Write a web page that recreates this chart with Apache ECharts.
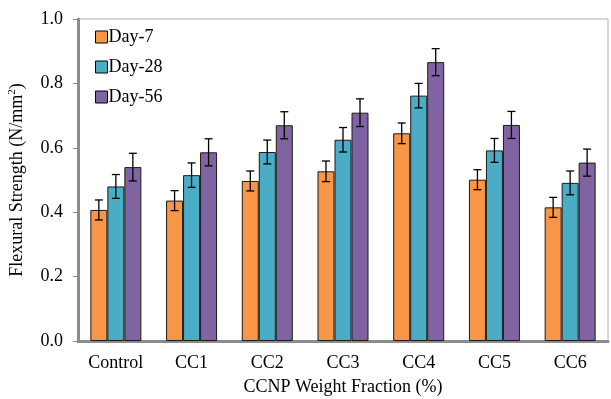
<!DOCTYPE html>
<html>
<head>
<meta charset="utf-8">
<script src="https://cdn.jsdelivr.net/npm/echarts@6/dist/echarts.min.js"></script>
<style>
  html, body { margin: 0; padding: 0; background: #fff; }
  #chart { width: 611px; height: 399px; }
</style>
</head>
<body>
<div id="chart"></div>
<script>
// data
var categories = ['Control', 'CC1', 'CC2', 'CC3', 'CC4', 'CC5', 'CC6'];
var day7  = [0.407, 0.436, 0.497, 0.527, 0.645, 0.501, 0.415];
var day28 = [0.480, 0.515, 0.587, 0.625, 0.762, 0.592, 0.491];
var day56 = [0.540, 0.586, 0.670, 0.709, 0.866, 0.671, 0.554];
var err7  = [0.031, 0.031, 0.031, 0.032, 0.032, 0.031, 0.031];
var err28 = [0.037, 0.038, 0.037, 0.038, 0.038, 0.037, 0.037];
var err56 = [0.043, 0.042, 0.042, 0.043, 0.042, 0.042, 0.042];
var yTicks = [0, 0.2, 0.4, 0.6, 0.8, 1.0];

var seriesNames = ['Day-7', 'Day-28', 'Day-56'];
var seriesVals = [day7, day28, day56];
var seriesErr = [err7, err28, err56];
var colors = ['#F79646', '#4BACC6', '#8064A2'];
var font = '"Liberation Serif", "Times New Roman", serif';
var BAR_W = 17;

var myChart = echarts.init(document.getElementById('chart'));

function errorSeries(k){
  var rows = [];
  for (var i = 0; i < categories.length; i++) {
    rows.push([i, seriesVals[k][i] - seriesErr[k][i], seriesVals[k][i] + seriesErr[k][i]]);
  }
  return {
    type: 'custom',
    name: seriesNames[k] + ' err',
    data: rows,
    z: 10,
    silent: true,
    renderItem: function (params, api) {
      var off = (k - 1) * BAR_W;
      var lo = api.coord([api.value(0), api.value(1)]);
      var hi = api.coord([api.value(0), api.value(2)]);
      var x = lo[0] + off;
      var cap = 4;
      var st = { stroke: '#000', lineWidth: 1.3 };
      return {
        type: 'group',
        children: [
          { type: 'line', shape: { x1: x, y1: lo[1], x2: x, y2: hi[1] }, style: st },
          { type: 'line', shape: { x1: x - cap, y1: lo[1], x2: x + cap, y2: lo[1] }, style: st },
          { type: 'line', shape: { x1: x - cap, y1: hi[1], x2: x + cap, y2: hi[1] }, style: st }
        ]
      };
    }
  };
}

var series_data = [];
for (var k = 0; k < 3; k++) {
  series_data.push({
    name: seriesNames[k],
    type: 'bar',
    data: seriesVals[k],
    barWidth: BAR_W,
    barGap: '0%',
    itemStyle: { color: colors[k], borderColor: '#1a1a1a', borderWidth: 1 }
  });
}
for (var k = 0; k < 3; k++) series_data.push(errorSeries(k));

var option = {
  animation: false,
  backgroundColor: '#fff',
  textStyle: { fontFamily: font },
  legend: {
    data: seriesNames,
    orient: 'vertical',
    left: 90,
    top: 23,
    itemGap: 12,
    itemWidth: 12,
    itemHeight: 12,
    icon: 'rect',
    itemStyle: { borderColor: '#000', borderWidth: 1 },
    textStyle: { fontFamily: font, fontSize: 18, color: '#000', padding: [0, 0, 0, -4] }
  },
  grid: {
    left: 78, right: 3, top: 19, bottom: 58,
    outerBoundsMode: 'none',
    show: true, borderColor: '#b0b0b0', borderWidth: 1
  },
  xAxis: {
    type: 'category',
    data: categories,
    name: 'CCNP Weight Fraction (%)',
    nameLocation: 'middle',
    nameGap: 37,
    nameTextStyle: { fontFamily: font, fontSize: 18, color: '#000' },
    axisLine: { lineStyle: { color: '#8c8c8c', width: 3 } },
    axisTick: { show: false },
    axisLabel: { fontFamily: font, fontSize: 18, color: '#000', margin: 13 }
  },
  yAxis: {
    type: 'value',
    min: 0,
    max: 1.0,
    interval: 0.2,
    name: 'Flexural Strength (N/mm{sup|2})',
    nameLocation: 'middle',
    nameGap: 51,
    nameTextStyle: {
      fontFamily: font, fontSize: 18, color: '#000',
      rich: { sup: { fontFamily: font, fontSize: 11, verticalAlign: 'top', padding: [0, 0, 9, 0], color: '#000' } }
    },
    axisLine: { show: true, lineStyle: { color: '#8c8c8c', width: 3 } },
    axisTick: { show: true, length: 5, lineStyle: { color: '#8c8c8c', width: 1 } },
    splitLine: { show: false },
    axisLabel: {
      fontFamily: font, fontSize: 18, color: '#000', margin: 15,
      formatter: function (v) { return v.toFixed(1); }
    }
  },
  series: series_data
};
myChart.setOption(option);
</script>
</body>
</html>
